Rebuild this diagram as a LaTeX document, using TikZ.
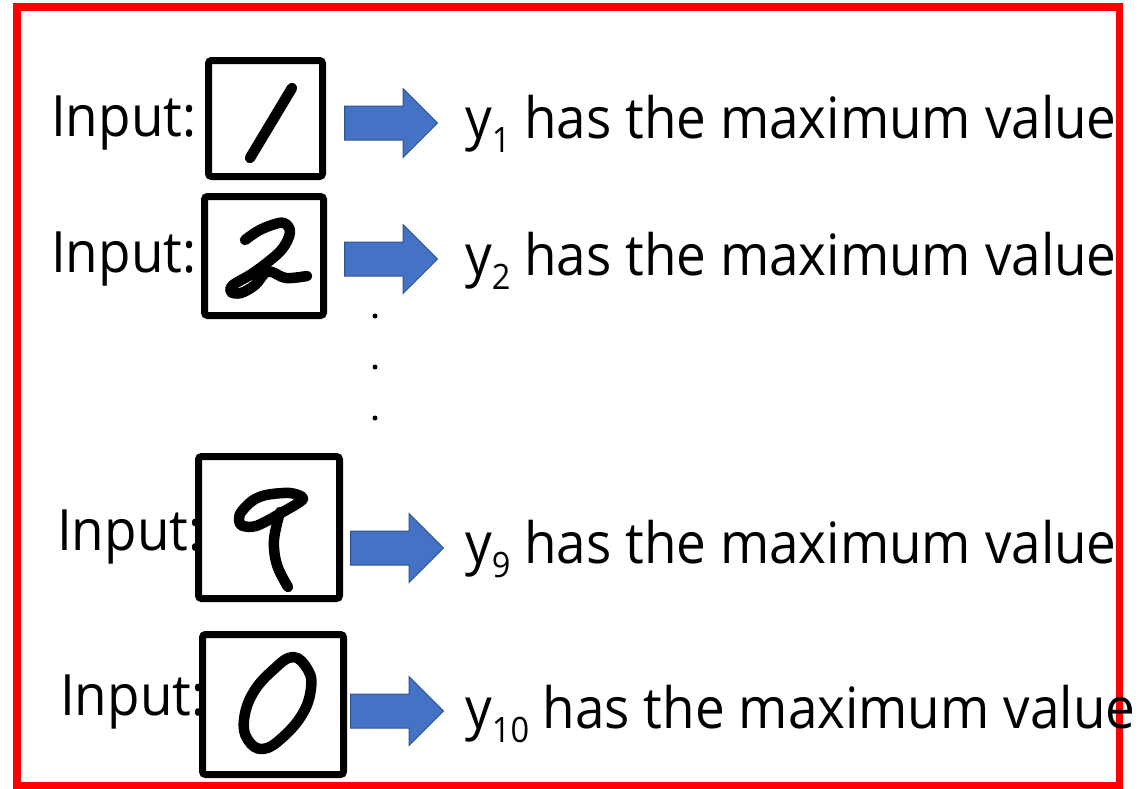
\documentclass[tikz,border=0pt]{standalone}
\usepackage{fontspec}
\setmainfont{Open Sans}[FakeStretch=0.93]
\usepackage{tikz}
\usetikzlibrary{positioning,shapes.arrows}

\definecolor{arrblue}{HTML}{4472C4}
\definecolor{arredge}{HTML}{2F528F}
\newcommand{\ysub}[1]{\raisebox{-14pt}{\fontsize{35}{36}\selectfont #1}}

\begin{document}
\begin{tikzpicture}[
  x=1pt, y=-1pt,
  digitbox/.style={draw, line width=7pt, rounded corners=3pt, inner sep=0pt},
  blockarr/.style={single arrow, draw=arredge, fill=arrblue, line width=1pt,
    inner xsep=0pt, inner ysep=16.5pt, minimum height=93pt,
    single arrow head extend=17.5pt},
  lbl/.style={inner sep=0pt, anchor=base west, font=\fontsize{57}{60}\selectfont},
  ink/.style={line width=10.5pt, line cap=round, line join=round}
]
  \useasboundingbox (0,0) rectangle (1142,788);
  \draw[red, line width=7.5pt] (17,7) rectangle (1119.5,786);

  % input labels
  \node[lbl] (in1) at (51,136) {Input:};
  \node[lbl] (in2) at (51,272) {Input:};
  \node[lbl] (in9) at (57,550) {Input:};
  \node[lbl] (in0) at (60,715) {Input:};

  % digit images
  \node[digitbox, minimum width=114pt, minimum height=116pt] (b1) at (265.5,118.5) {};
  \node[digitbox, minimum width=119pt, minimum height=119pt] (b2) at (264,256) {};
  \node[digitbox, minimum width=141pt, minimum height=142pt] (b9) at (269,527.5) {};
  \node[digitbox, minimum width=141pt, minimum height=140pt] (b0) at (273,704.5) {};

  \draw[ink] (292,88) -- (250,158);
  \draw[ink] plot[smooth, tension=0.6] coordinates {(245,240) (258,231) (272,225)
    (284,223) (290,232) (283,248) (268,262) (250,275) (233,285) (231,292)
    (241,293) (255,285) (265,273) (272,272) (286,278) (307,276)};
  \draw[ink] plot[smooth cycle, tension=0.5] coordinates {(303,499) (281,513)
    (256,526) (241,525) (240,514) (252,501) (266,495) (290,493)};
  \draw[ink] plot[smooth, tension=0.6] coordinates {(280,512) (274,540)
    (277,565) (288,587)};
  \draw[ink] plot[smooth cycle, tension=0.7] coordinates {(293,657) (308,670)
    (311,688) (303,713) (283,737) (263,749) (248,740) (244,720) (253,693)
    (273,670)};

  % block arrows
  \node[blockarr, right=18pt of b1, yshift=-4.5pt] (a1) {};
  \node[blockarr, right=17pt of b2, yshift=-3pt] (a2) {};
  \node[blockarr, right=7pt of b9, yshift=-20.5pt] (a9) {};
  \node[blockarr, right=3pt of b0, yshift=-6.5pt] (a0) {};

  % outputs
  \node[lbl] (o1) at (465,138) {y\ysub{1} has the maximum value};
  \node[lbl] (o2) at (465,275) {y\ysub{2} has the maximum value};
  \node[lbl] (o9) at (465,563) {y\ysub{9} has the maximum value};
  \node[lbl] (o0) at (465,728) {y\ysub{10} has the maximum value};

  \foreach \y in {316,367,418}
    \fill (375,\y) circle (2.5pt);
\end{tikzpicture}
\end{document}
